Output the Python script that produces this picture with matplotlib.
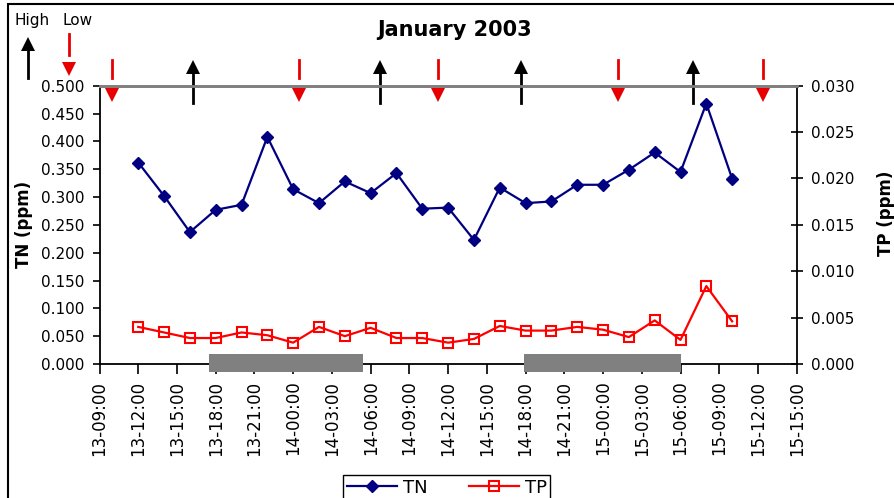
import matplotlib
matplotlib.use('Agg')
import matplotlib.pyplot as plt
import numpy as np
from matplotlib.lines import Line2D
from matplotlib.patches import Rectangle

plt.rcParams['font.family'] = 'DejaVu Sans'

# sampling times (day-hh:mm, January 2003) and values
times = ['13-12:00', '13-14:00', '13-16:00', '13-18:00', '13-20:00', '13-22:00',
         '14-00:00', '14-02:00', '14-04:00', '14-06:00', '14-08:00', '14-10:00',
         '14-12:00', '14-14:00', '14-16:00', '14-18:00', '14-20:00', '14-22:00',
         '15-00:00', '15-02:00', '15-04:00', '15-06:00', '15-08:00', '15-10:00']
tn = [0.362, 0.302, 0.237, 0.277, 0.286, 0.408, 0.314, 0.289, 0.328, 0.307, 0.343, 0.279,
      0.281, 0.223, 0.317, 0.289, 0.292, 0.322, 0.322, 0.349, 0.380, 0.345, 0.468, 0.333]
tp = [0.0040, 0.0034, 0.0028, 0.0028, 0.0034, 0.0031, 0.0023, 0.0040, 0.0030, 0.0039, 0.0028, 0.0028,
      0.0023, 0.0027, 0.0041, 0.0036, 0.0036, 0.0040, 0.0037, 0.0029, 0.0047, 0.0026, 0.0084, 0.0046]

high_tide = ['13-16:13', '14-06:44', '14-17:40', '15-06:57']
low_tide = ['13-10:00', '14-00:29', '14-11:12', '15-01:11', '15-12:25']
night = [('13-17:30', '14-05:25'), ('14-17:55', '15-06:00')]


def hrs(s):
    d, t = s.split('-')
    h, m = t.split(':')
    return (int(d) - 13) * 24 + int(h) + int(m) / 60.0 - 9


W, H = 894, 498
def fx(x): return x / W
def fy(y): return 1 - y / H


fig = plt.figure(figsize=(W / 100, H / 100), dpi=100)
ax = fig.add_axes([fx(99.5), fy(364), 697.2 / W, 278.3 / H])
ax2 = ax.twinx()

x = [hrs(t) for t in times]
l1, = ax.plot(x, tn, color='#000080', lw=1.6, marker='D', ms=6, zorder=4)
l2, = ax2.plot(x, tp, color='#ff0000', lw=1.6, marker='s', ms=7.5, mfc='none', mew=1.5, zorder=4)

ax.set_xlim(0, 54)
ax.set_ylim(0, 0.5)
ax2.set_ylim(0, 0.03)
ax.set_yticks(np.arange(0, 0.501, 0.05))
ax2.set_yticks(np.arange(0, 0.0301, 0.005))
ax.set_yticklabels(['%.3f' % v for v in np.arange(0, 0.501, 0.05)])
ax2.set_yticklabels(['%.3f' % v for v in np.arange(0, 0.0301, 0.005)])

ticks = np.arange(0, 55, 3)
labels = []
for t in ticks:
    tot = t + 9
    labels.append('%d-%02d:00' % (13 + tot // 24, tot % 24))
ax.set_xticks(ticks)
ax.set_xticklabels(labels, rotation=90, fontsize=12)

ax.tick_params(axis='y', direction='out', length=5, width=1.2, labelsize=11, pad=6)
ax.tick_params(axis='x', direction='out', length=7, width=1.2, pad=5)
ax2.tick_params(axis='y', direction='inout', length=9, width=1.2, labelsize=11, pad=6)

for s in ['left', 'bottom']:
    ax.spines[s].set_linewidth(1.3)
ax.spines['right'].set_visible(False)
ax.spines['top'].set_color('#808080')
ax.spines['top'].set_linewidth(2)
ax2.spines['left'].set_visible(False)
ax2.spines['bottom'].set_visible(False)
ax2.spines['right'].set_linewidth(1.3)
ax2.spines['top'].set_color('#808080')
ax2.spines['top'].set_linewidth(2)

ax.set_ylabel('TN (ppm)', fontsize=12, fontweight='bold')
ax.yaxis.set_label_coords((33 - 99.5) / 697.2, 0.5)
ax2.set_ylabel('TP (ppm)', fontsize=12, fontweight='bold', rotation=90)
ax2.yaxis.set_label_coords((877 - 99.5) / 697.2, 0.54)

fig.text(fx(455), fy(30), 'January 2003', fontsize=15, fontweight='bold', ha='center', va='center')

# night bars
for a, b in night:
    ax.add_patch(Rectangle((hrs(a), -0.014), hrs(b) - hrs(a), 0.032, color='#808080',
                           clip_on=False, zorder=5, lw=0))

# tide arrows
red = '#e80000'
for t in low_tide:
    h = hrs(t)
    ax.plot([h, h], [0.514, 0.546], color=red, lw=2, clip_on=False, zorder=6)
    ax.plot([h], [0.484], marker='v', ms=9.5, color=red, mew=0, clip_on=False, zorder=6)
for t in high_tide:
    h = hrs(t)
    ax.plot([h, h], [0.469, 0.525], color='black', lw=2, clip_on=False, zorder=6)
    ax.plot([h], [0.533], marker='^', ms=10.5, color='black', mew=0, clip_on=False, zorder=6)

# key for arrows
fig.text(fx(14), fy(25), 'High', fontsize=11, va='baseline')
fig.text(fx(62), fy(25), 'Low', fontsize=11, va='baseline')
fig.add_artist(Line2D([fx(28), fx(28)], [fy(48), fy(78)], color='black', lw=2))
fig.add_artist(Line2D([fx(28)], [fy(44)], marker='^', ms=10.5, color='black', mew=0))
fig.add_artist(Line2D([fx(69), fx(69)], [fy(34), fy(55)], color=red, lw=2))
fig.add_artist(Line2D([fx(69)], [fy(69)], marker='v', ms=9.5, color=red, mew=0))

# chart area border
fig.add_artist(Rectangle((fx(8), -0.1), 1.5, fy(4) + 0.1, transform=fig.transFigure,
                         fill=False, lw=1.5, ec='black'))

leg = fig.legend([l1, l2], ['TN', 'TP'], loc='upper left', bbox_to_anchor=(fx(343), fy(475)),
                 ncol=2, frameon=True, fancybox=False, edgecolor='black', framealpha=1,
                 prop={'family': ['Liberation Sans Narrow', 'DejaVu Sans'], 'size': 13},
                 handlelength=2.8, handletextpad=0.3, columnspacing=2.3, borderpad=0.2,
                 borderaxespad=0)
leg.get_frame().set_linewidth(1.0)

fig.savefig('out.png', dpi=100)
